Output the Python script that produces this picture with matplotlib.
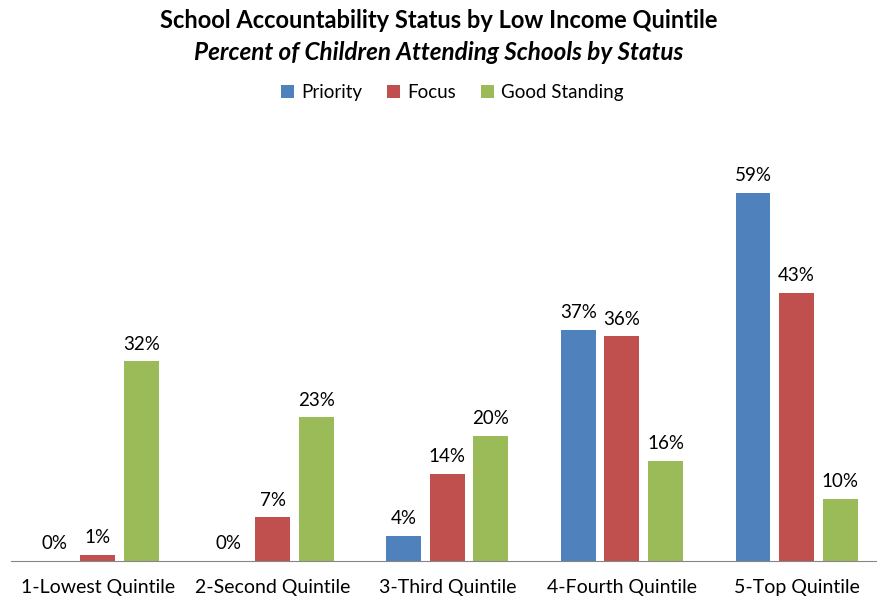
import numpy as np
import matplotlib.pyplot as plt

plt.rcParams['font.family'] = ['Lato', 'DejaVu Sans']

quintiles = ['1-Lowest Quintile', '2-Second Quintile', '3-Third Quintile',
             '4-Fourth Quintile', '5-Top Quintile']
priority = [0, 0, 4, 37, 59]
focus = [1, 7, 14, 36, 43]
good_standing = [32, 23, 20, 16, 10]

series = [('Priority', priority, '#4F81BD'),
          ('Focus', focus, '#C0504D'),
          ('Good Standing', good_standing, '#9BBB59')]

fig = plt.figure(figsize=(8.77, 5.98), dpi=100)
ax = fig.add_axes([0.012, 0.062, 0.996, 0.73])

x = np.arange(len(quintiles))
w = 0.2
gap = 0.05
for i, (name, vals, col) in enumerate(series):
    pos = x + (i - 1) * (w + gap)
    ax.bar(pos, vals, width=w, color=col, label=name)
    for xp, v in zip(pos, vals):
        ax.text(xp, v + 1.4, f'{v}%', ha='center', va='bottom', fontsize=13.5)

ax.set_xlim(-0.5, len(quintiles) - 0.5)
ax.set_ylim(0, 70)
ax.set_xticks(x)
ax.set_xticklabels(quintiles, fontsize=14)
ax.tick_params(axis='x', length=0, pad=13)
ax.set_yticks([])
for s in ['top', 'right', 'left']:
    ax.spines[s].set_visible(False)
ax.spines['bottom'].set_color('#868686')

fig.text(0.5, 0.965, 'School Accountability Status by Low Income Quintile',
         ha='center', va='center', fontsize=17, fontweight='bold')
fig.text(0.5, 0.912, 'Percent of Children Attending Schools by Status',
         ha='center', va='center', fontsize=17.5, fontweight='bold', style='italic')
fig.legend(loc='center', bbox_to_anchor=(0.516, 0.845), ncol=3, frameon=False,
           fontsize=13.5, handlelength=0.7, handleheight=0.7, columnspacing=1.3,
           handletextpad=0.4)

fig.savefig('out.png')
